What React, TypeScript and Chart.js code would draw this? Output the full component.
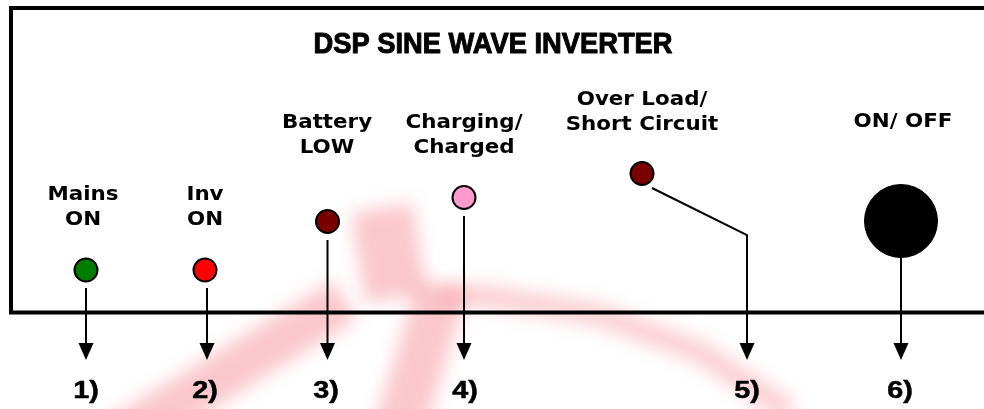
import React, { useEffect, useRef } from 'react';
import { Chart, registerables } from 'chart.js';

Chart.register(...registerables);

// ---- data (diagram coordinate space: x 0..984, y 0..409 top-down) ----
const titleText = 'DSP SINE WAVE INVERTER';
const titleX = 493;
const titleBaseY = 53;
const titleWidth = 360;

const indicatorNumbers = ['1)', '2)', '3)', '4)', '5)', '6)'];
const indicatorLabels = [
  ['Mains', 'ON'],
  ['Inv', 'ON'],
  ['Battery', 'LOW'],
  ['Charging/', 'Charged'],
  ['Over Load/', 'Short Circuit'],
  ['ON/ OFF'],
];
const labelX = [83, 205, 327, 464, 642, 903];
const labelBaseY = [200, 200, 128, 128, 105, 127];
const labelLineGap = 25;

const ledX = [86, 205, 327.5, 464, 642, 901];
const ledY = [270, 270, 221.5, 197.5, 173.5, 221];
const ledSize = [11.5, 11.5, 11.5, 11.5, 11.5, 36.5];
const ledColors = ['#007d00', '#ff0000', '#7a0000', '#ff9acc', '#7a0000', '#000000'];

const leaderStartX = [86, 207, 327.5, 464, 652, 901];
const leaderStartY = [288, 288, 240, 216, 188, 258];
const leaderBendY = [288, 288, 240, 216, 235, 258];
const arrowX = [86, 207, 327.5, 464, 747, 901];
const arrowBaseY = 343;
const arrowTipY = 360;

const numberX = [86, 205, 326, 465, 747, 900];
const numberBaseY = 398;

const panelLeftX = 11;
const panelRightX = 995;
const panelTopY = 8;
const panelBottomY = 312.5;

// faint watermark strokes behind the panel
const watermarkA = [[118, 440], [345, 300]];
const watermarkB = [[382, 208], [396, 298]];
const watermarkC = [[442, 288], [396, 440]];
const watermarkD = [[440, 292], [490, 297], [600, 315], [700, 352], [790, 412]];

const LABEL_FONT = 'bold 20px "DejaVu Sans", Verdana, sans-serif';
const NUMBER_FONT = 'bold 24px "Liberation Sans", Arial, sans-serif';
const TITLE_FONT = 'bold 29px "Liberation Sans Narrow", "Liberation Sans", Arial, sans-serif';

const diagramPlugin = {
  id: 'diagram',
  beforeDatasetsDraw(chart: any) {
    const { ctx, scales } = chart;
    const px = (v: number) => scales.x.getPixelForValue(v);
    const py = (v: number) => scales.y.getPixelForValue(v);
    ctx.save();
    ctx.filter = 'blur(9px)';
    ctx.strokeStyle = 'rgba(240, 70, 85, 0.30)';
    ctx.lineCap = 'butt';
    ctx.lineJoin = 'round';
    const stroke = (pts: number[][], w: number) => {
      ctx.lineWidth = w;
      ctx.beginPath();
      pts.forEach((p, i) => (i === 0 ? ctx.moveTo(px(p[0]), py(p[1])) : ctx.lineTo(px(p[0]), py(p[1]))));
      ctx.stroke();
    };
    stroke(watermarkA, 46);
    stroke(watermarkB, 62);
    stroke(watermarkC, 50);
    ctx.strokeStyle = 'rgba(240, 70, 85, 0.27)';
    stroke(watermarkD, 22);
    ctx.restore();
  },
  afterDatasetsDraw(chart: any) {
    const { ctx, scales } = chart;
    const px = (v: number) => scales.x.getPixelForValue(v);
    const py = (v: number) => scales.y.getPixelForValue(v);
    const text = (t: string, x: number, y: number, font: string, sx: number, heavy = 0) => {
      ctx.save();
      ctx.translate(x, y);
      ctx.scale(sx, 1);
      ctx.font = font;
      ctx.fillStyle = '#000';
      ctx.textAlign = 'center';
      ctx.textBaseline = 'alphabetic';
      ctx.fillText(t, 0, 0);
      if (heavy > 0) {
        ctx.strokeStyle = '#000';
        ctx.lineWidth = heavy;
        ctx.lineJoin = 'round';
        ctx.strokeText(t, 0, 0);
      }
      ctx.restore();
    };
    // title
    ctx.save();
    ctx.font = TITLE_FONT;
    const tw = ctx.measureText(titleText).width;
    ctx.restore();
    text(titleText, px(titleX), py(titleBaseY), TITLE_FONT, (titleWidth - 1) / tw, 1);
    // labels
    indicatorLabels.forEach((lines, i) => {
      lines.forEach((l, j) => text(l, px(labelX[i]), py(labelBaseY[i] + j * labelLineGap), LABEL_FONT, 1.07));
    });
    // arrowheads
    ctx.save();
    ctx.fillStyle = '#000';
    arrowX.forEach((x) => {
      ctx.beginPath();
      ctx.moveTo(px(x) - 7.5, py(arrowBaseY));
      ctx.lineTo(px(x) + 7.5, py(arrowBaseY));
      ctx.lineTo(px(x), py(arrowTipY));
      ctx.closePath();
      ctx.fill();
    });
    ctx.restore();
    // numbers
    indicatorNumbers.forEach((n, i) => text(n, px(numberX[i]), py(numberBaseY), NUMBER_FONT, 1.2, 0.5));
  },
};

export default function App() {
  const ref = useRef<HTMLCanvasElement | null>(null);
  useEffect(() => {
    if (!ref.current) return;
    const leaderSets = arrowX.map((ax, i) => ({
      type: 'scatter' as const,
      data: [
        { x: leaderStartX[i], y: leaderStartY[i] },
        { x: ax, y: leaderBendY[i] },
        { x: ax, y: arrowBaseY },
      ],
      showLine: true,
      borderColor: '#000',
      borderWidth: 2,
      pointRadius: 0,
      fill: false,
      clip: false as any,
      order: 1,
    }));
    const chart = new Chart(ref.current, {
      type: 'scatter',
      data: {
        datasets: [
          {
            data: ledX.map((x, i) => ({ x, y: ledY[i] })),
            pointRadius: ledSize,
            pointBackgroundColor: ledColors,
            pointBorderColor: '#000',
            pointBorderWidth: ledSize.map((s) => (s > 20 ? 1 : 2)),
            clip: false as any,
            order: 0,
          } as any,
          ...leaderSets,
          {
            data: [
              { x: panelRightX, y: panelTopY },
              { x: panelLeftX, y: panelTopY },
              { x: panelLeftX, y: panelBottomY },
              { x: panelRightX, y: panelBottomY },
            ],
            showLine: true,
            borderColor: '#000',
            borderWidth: 4,
            borderJoinStyle: 'miter',
            pointRadius: 0,
            fill: false,
            clip: false as any,
            order: 2,
          } as any,
        ],
      },
      options: {
        animation: false,
        responsive: false,
        events: [],
        layout: { padding: 0, autoPadding: false },
        plugins: { legend: { display: false }, tooltip: { enabled: false } },
        scales: {
          x: { type: 'linear', min: 0, max: 984, display: false },
          y: { type: 'linear', min: 0, max: 409, reverse: true, display: false },
        },
      },
      plugins: [diagramPlugin],
    });
    return () => chart.destroy();
  }, []);
  return (
    <div style={{ position: 'absolute', left: 0, top: 0, width: 984, height: 409, background: '#fff' }}>
      <canvas ref={ref} width={984} height={409} style={{ display: 'block' }} />
    </div>
  );
}
